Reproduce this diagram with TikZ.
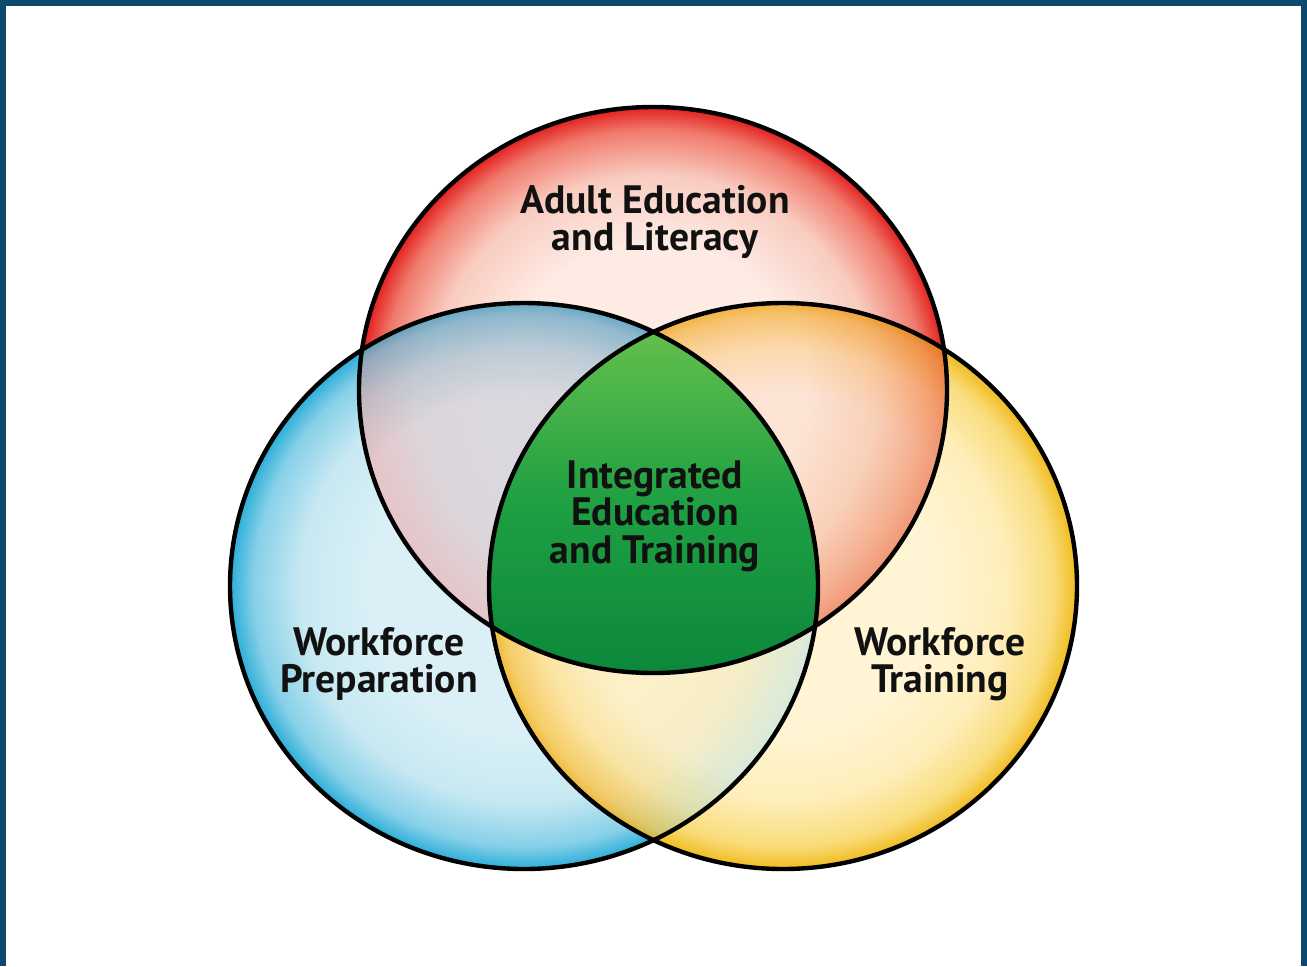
\documentclass[tikz,border=0pt]{standalone}
\usepackage{fontspec}
\setmainfont{PT Sans}
\usetikzlibrary{shadings}
\definecolor{frameblue}{HTML}{0B4A6E}
\definecolor{redA}{HTML}{FDEBE4}
\definecolor{redB}{HTML}{F9CCC0}
\definecolor{redC}{HTML}{F07A6C}
\definecolor{redD}{HTML}{E3201F}
\definecolor{bluA}{HTML}{DAF0F6}
\definecolor{bluB}{HTML}{C8E9F2}
\definecolor{bluC}{HTML}{86D0E8}
\definecolor{bluD}{HTML}{2BAED8}
\definecolor{yelA}{HTML}{FFF5D4}
\definecolor{yelB}{HTML}{FEEEBA}
\definecolor{yelC}{HTML}{F9DC7A}
\definecolor{yelD}{HTML}{F0BB1E}
% overlap colours
\definecolor{rbA}{HTML}{DAD8DE}
\definecolor{rbB}{HTML}{DCD5DA}
\definecolor{rbC}{HTML}{E6C4C8}
\definecolor{ryA}{HTML}{FCE4D5}
\definecolor{ryB}{HTML}{F9D0B8}
\definecolor{ryC}{HTML}{F4AE8E}
\definecolor{ryD}{HTML}{F09674}
\definecolor{byA}{HTML}{FBF0C8}
\definecolor{byB}{HTML}{F5EDC8}
\definecolor{byC}{HTML}{D8EADA}
\definecolor{bRimA}{HTML}{DDF1F7}
\definecolor{bRimB}{HTML}{A8DAEC}
\definecolor{bRimC}{HTML}{78C8E4}
\definecolor{yRimA}{HTML}{FFF4D2}
\definecolor{yRimB}{HTML}{FADA86}
\definecolor{yRimC}{HTML}{F4C84A}
\definecolor{grnA}{HTML}{66C04C}
\definecolor{grnB}{HTML}{1FA043}
\definecolor{grnC}{HTML}{0B873A}
\definecolor{inkc}{HTML}{111111}
\pgfdeclareradialshading{redglow}{\pgfpoint{0bp}{0bp}}{color(0bp)=(redA); color(13bp)=(redA); color(19bp)=(redB); color(23bp)=(redC); color(25bp)=(redD); color(50bp)=(redD)}
\pgfdeclareradialshading{blueglow}{\pgfpoint{0bp}{0bp}}{color(0bp)=(bluA); color(13bp)=(bluA); color(19bp)=(bluB); color(23bp)=(bluC); color(25bp)=(bluD); color(50bp)=(bluD)}
\pgfdeclareradialshading{yellowglow}{\pgfpoint{0bp}{0bp}}{color(0bp)=(yelA); color(13bp)=(yelA); color(19bp)=(yelB); color(23bp)=(yelC); color(25bp)=(yelD); color(50bp)=(yelD)}
\pgfdeclareradialshading{rbbase}{\pgfpoint{0bp}{0bp}}{color(0bp)=(rbA); color(14bp)=(rbA); color(20bp)=(rbB); color(25bp)=(rbC); color(50bp)=(rbC)}
\pgfdeclareradialshading{rybase}{\pgfpoint{0bp}{0bp}}{color(0bp)=(ryA); color(13bp)=(ryA); color(19bp)=(ryB); color(23bp)=(ryC); color(25bp)=(ryD); color(50bp)=(ryD)}
\pgfdeclareradialshading{bybase}{\pgfpoint{0bp}{0bp}}{color(0bp)=(byA); color(14bp)=(byA); color(20bp)=(byB); color(25bp)=(byC); color(50bp)=(byC)}
\pgfdeclareradialshading{bluerim}{\pgfpoint{0bp}{0bp}}{color(0bp)=(white); color(17bp)=(white); color(21bp)=(bRimA); color(24bp)=(bRimB); color(25bp)=(bRimC); color(50bp)=(bRimC)}
\pgfdeclareradialshading{yellowrim}{\pgfpoint{0bp}{0bp}}{color(0bp)=(white); color(17bp)=(white); color(21bp)=(yRimA); color(24bp)=(yRimB); color(25bp)=(yRimC); color(50bp)=(yRimC)}
\tikzset{
  ring/.style={draw=black, line width=2.2pt},
  lbl/.style={text=inkc, font=\fontsize{19.8}{18.8}\selectfont\bfseries, align=center, inner sep=0pt},
}
\def\redE{(653,390) ellipse [x radius=294, y radius=283]}
\def\bluE{(524,586) ellipse [x radius=294, y radius=283]}
\def\yelE{(783,586) ellipse [x radius=294, y radius=283]}
\begin{document}
\begin{tikzpicture}[x=0.5pt, y=-0.5pt]
\useasboundingbox (0,0) rectangle (1307,966);
\fill[white] (0,0) rectangle (1307,966);
\fill[frameblue] (0,0) rectangle (1307,6);
\fill[frameblue] (0,0) rectangle (6,966);
\fill[frameblue] (1301,0) rectangle (1307,966);
% circles
\shade[shading=redglow] \redE;
\shade[shading=blueglow] \bluE;
\shade[shading=yellowglow] \yelE;
% red & blue overlap
\begin{scope}
  \clip \redE; \clip \bluE;
  \shade[shading=rbbase] \redE;
  \shade[shading=bluerim, blend mode=multiply] \bluE;
\end{scope}
% red & yellow overlap
\begin{scope}
  \clip \redE; \clip \yelE;
  \shade[shading=rybase] \redE;
  \shade[shading=yellowrim, blend mode=multiply] \yelE;
\end{scope}
% blue & yellow overlap
\begin{scope}
  \clip \bluE; \clip \yelE;
  \shade[shading=bybase] \bluE;
  \shade[shading=yellowrim, blend mode=multiply] \yelE;
\end{scope}
% centre
\begin{scope}
  \clip \redE; \clip \bluE; \clip \yelE;
  \shade[top color=grnA, bottom color=grnC, middle color=grnB] (480,325) rectangle (830,676);
\end{scope}
\draw[ring] \redE;
\draw[ring] \bluE;
\draw[ring] \yelE;
% labels
\node[lbl] (adult) at (655,222) {Adult Education\\and Literacy};
\node[lbl] (iet) at (655,516) {Integrated\\Education\\and Training};
\node[lbl] (wp) at (379,664) {Workforce\\Preparation};
\node[lbl] (wt) at (940,664) {Workforce\\Training};
\end{tikzpicture}
\end{document}
